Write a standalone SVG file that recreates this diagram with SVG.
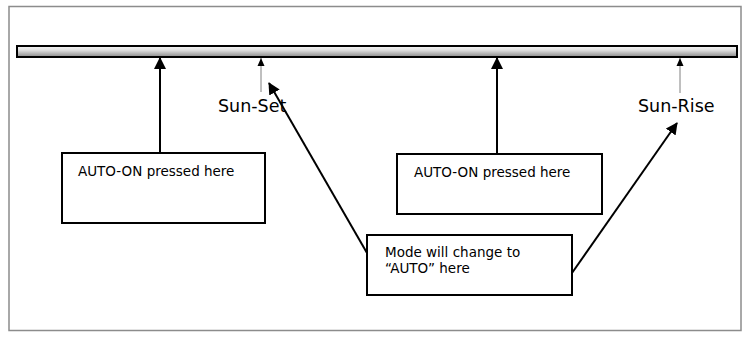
<svg xmlns="http://www.w3.org/2000/svg" width="747" height="337" viewBox="0 0 747 337">
<defs>
<linearGradient id="barg" x1="0" y1="0" x2="0" y2="1">
<stop offset="0" stop-color="#f4f4f4"/>
<stop offset="0.35" stop-color="#e2e2e2"/>
<stop offset="1" stop-color="#8a8a8a"/>
</linearGradient>
<marker id="big" markerWidth="12" markerHeight="12" viewBox="0 0 12 12" refX="11" refY="6" orient="auto" markerUnits="userSpaceOnUse">
<path d="M0,0 L12,6 L0,12 Z" fill="#000"/>
</marker>
<marker id="small" markerWidth="8" markerHeight="8" viewBox="0 0 8 8" refX="8" refY="4" orient="auto" markerUnits="userSpaceOnUse">
<path d="M0,0.5 L8,4 L0,7.5 Z" fill="#000"/>
</marker>
</defs>
<style>
.box{fill:#fff;stroke:#000;stroke-width:2}
.t{font-family:"DejaVu Sans",Verdana,sans-serif;font-size:13.5px;fill:#000}
.lbl{font-family:"DejaVu Sans",Verdana,sans-serif;font-size:17.5px;fill:#000}
.thick{stroke:#000;stroke-width:2;fill:none;marker-end:url(#big)}
.thin{stroke:#808080;stroke-width:1;fill:none;marker-end:url(#small)}
</style>
<rect x="0" y="0" width="747" height="337" fill="#fff"/>
<rect x="9" y="6.5" width="732" height="324" fill="none" stroke="#8c8c8c" stroke-width="1.5"/>
<g id="timeline">
<rect x="17" y="46" width="720" height="11" fill="url(#barg)" stroke="#000" stroke-width="2"/>
</g>
<g id="connectors">
<line class="thick" x1="160" y1="152" x2="160" y2="58"/>
<line class="thick" x1="497" y1="153" x2="497" y2="58"/>
<line class="thin" x1="261" y1="92" x2="261" y2="58"/>
<line class="thin" x1="680" y1="93" x2="680" y2="58"/>
<line class="thick" x1="367" y1="253" x2="269" y2="83"/>
<line class="thick" x1="572" y1="273" x2="677" y2="123"/>
</g>
<g id="sunset">
<text class="lbl" x="218" y="112">Sun-Set</text>
</g>
<g id="sunrise">
<text class="lbl" x="638" y="112">Sun-Rise</text>
</g>
<g id="box1">
<rect class="box" x="62" y="153" width="203" height="70"/>
<text class="t" x="78" y="176">AUTO-ON pressed here</text>
</g>
<g id="box2">
<rect class="box" x="397" y="154" width="205" height="60"/>
<text class="t" x="414" y="177">AUTO-ON pressed here</text>
</g>
<g id="box3">
<rect class="box" x="367" y="235" width="205" height="60"/>
<text class="t" x="385" y="257">Mode will change to</text>
<text class="t" x="385" y="273">“AUTO” here</text>
</g>
</svg>
